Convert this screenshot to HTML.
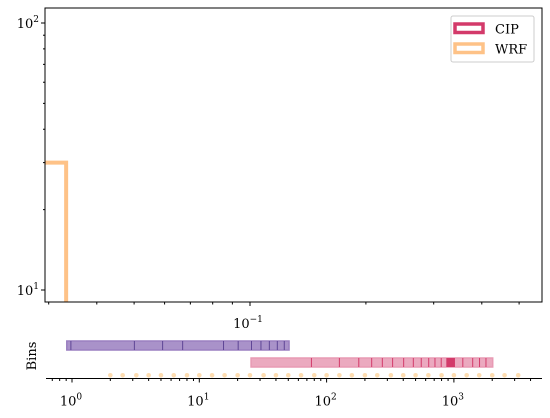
<!DOCTYPE html>
<html><head><meta charset="utf-8">
<style>
body{margin:0;background:#fff;}
svg{display:block;font-family:"DejaVu Serif","Liberation Serif",serif;}
</style></head>
<body>
<svg id="chart" width="550" height="418" viewBox="0 0 550 418">
<rect x="0" y="0" width="550" height="418" fill="#fff"/>
<g id="main"></g>
<g id="bins"></g>
</svg>
<script>
// main histogram data
const wrfEdges = [0.0294, 0.0333];
const wrfCounts = [30];
const mainYTicks = [10, 100];
const mainYTickLabels = ["1", "2"];
const mainXMajor = [0.1];
const mainXMinor = [0.03,0.04,0.05,0.06,0.07,0.08,0.09,0.2,0.3,0.4,0.5];
// bins strips
const cipEdgesPurple = [0.91,0.98,3.09,5.15,7.4,15.5,20.2,25.7,30.5,35.5,41,46.5,50.7];
const cipEdgesPink = [25.5,76,126,179,226,274,330,403,480,554,634,710,795,880,1010,1175,1405,1590,1786,2018];
const pinkHighlight = [880,1010];
const wrfDots = [2,2.5,3.2,4,5,6.3,8,10,12.6,15.8,20,25,32,40,50,63,80,100,126,158,200,250,320,400,500,630,800,1000,1260,1580,2000,2500,3200];
const binsXMajor = [1,10,100,1000];
const binsXMajorExp = ["0","1","2","3"];

const NS="http://www.w3.org/2000/svg";
function mk(tag,attrs,parent){const e=document.createElementNS(NS,tag);for(const k in attrs)e.setAttribute(k,attrs[k]);parent.appendChild(e);return e;}

// main axes
const L=45,R=542,T=8,B=302;
const mx=v=>250+385*Math.log10(v/0.1);
const my=v=>290-267*(Math.log10(v)-1);
const main=document.getElementById('main');
// WRF step
let d=`M ${L} ${my(wrfCounts[0])}`;
for(let i=0;i<wrfCounts.length;i++){d+=` L ${mx(wrfEdges[i+1])} ${my(wrfCounts[i])}`;}
d+=` L ${mx(wrfEdges[wrfEdges.length-1])} ${B}`;
const wp=mk('path',{d:d,fill:'none',stroke:'#fec287','stroke-width':4},main);


const frame=mk('rect',{x:L,y:T,width:R-L,height:B-T,fill:'none',stroke:'#000','stroke-width':1},main);


// y ticks
mainYTicks.forEach((v,i)=>{const y=my(v);
 mk('line',{x1:L-4,x2:L,y1:y,y2:y,stroke:'#000'},main);
 const t=mk('text',{x:L-6,y:y+5,'text-anchor':'end','font-size':13},main);
 t.textContent='10';
 
 
 const s=mk('tspan',{dy:-6,'font-size':9},t);s.textContent=mainYTickLabels[i];
});
[20,30,40,50,60,70,80,90].forEach(v=>{const y=my(v);mk('line',{x1:L-2,x2:L,y1:y,y2:y,stroke:'#000'},main);});
mainXMinor.forEach(v=>{const x=mx(v);mk('line',{x1:x,x2:x,y1:B,y2:B+2.5,stroke:'#000'},main);});
mainXMajor.forEach(v=>{const x=mx(v);mk('line',{x1:x,x2:x,y1:B,y2:B+4,stroke:'#000'},main);
 const t=mk('text',{x:x-2,y:B+26,'text-anchor':'middle','font-size':13},main);
 t.textContent='10';
 
 
 const s=mk('tspan',{dy:-6,'font-size':9},t);s.textContent='\u22121';
});
// legend
const lg=mk('g',{},main);


mk('rect',{x:451,y:16,width:83,height:46,rx:2,fill:'#fff',stroke:'#ccc'},lg);
[['CIP','#d33a6a',22.5],['WRF','#fec287',42.5]].forEach(([n,c,y])=>{
 const g=mk('g',{},lg);
 
 
 mk('rect',{x:455,y:y+1.5,width:28,height:8.5,fill:'none',stroke:c,'stroke-width':3.5},g);
 const t=mk('text',{x:495,y:y+11,'font-size':13},g);t.textContent=n;
});

// bins axes
const bins=document.getElementById('bins');
const bx=v=>72+127.3*Math.log10(v);
const AY=378.5;
function strip(edges,y,h,fill,stroke,name){
 const r=mk('rect',{x:bx(edges[0]),y:y,width:bx(edges[edges.length-1])-bx(edges[0]),height:h,fill:fill,stroke:fill,'stroke-width':1.5,'fill-opacity':0.85},bins);
 
 
 edges.slice(1,-1).forEach(e=>{const x=bx(e);mk('line',{x1:x,x2:x,y1:y,y2:y+h,stroke:stroke,'stroke-width':1},bins);});
}
strip(cipEdgesPurple,341,9,'#9a7fc0','#5e4595','bins-strip-purple');
strip(cipEdgesPink,358,9,'#e89ab4','#d33a6a','bins-strip-pink');
const hl=mk('rect',{x:bx(pinkHighlight[0]),y:358,width:bx(pinkHighlight[1])-bx(pinkHighlight[0]),height:9,fill:'#d33a6a'},bins);


wrfDots.forEach(v=>{
 const c=mk('circle',{cx:bx(v),cy:375.3,r:2.3,fill:'#fddcb0'},bins);
 
 
});
const ax=mk('line',{x1:46,x2:542,y1:AY,y2:AY,stroke:'#000','stroke-width':1},bins);


for(let e=-1;e<=3;e++){for(let m=2;m<=9;m++){const v=m*Math.pow(10,e);const x=bx(v);if(x<46||x>542)continue;mk('line',{x1:x,x2:x,y1:AY,y2:AY+2.5,stroke:'#000'},bins);}}
binsXMajor.forEach((v,i)=>{const x=bx(v);mk('line',{x1:x,x2:x,y1:AY,y2:AY+4,stroke:'#000'},bins);
 const t=mk('text',{x:x-1,y:AY+27,'text-anchor':'middle','font-size':13},bins);
 t.textContent='10';
 
 
 const s=mk('tspan',{dy:-6,'font-size':9},t);s.textContent=binsXMajorExp[i];
});
const yl=mk('text',{x:0,y:0,'font-size':13,'text-anchor':'middle',transform:'translate(36,356) rotate(-90)'},bins);
yl.textContent='Bins';


</script>
</body></html>
